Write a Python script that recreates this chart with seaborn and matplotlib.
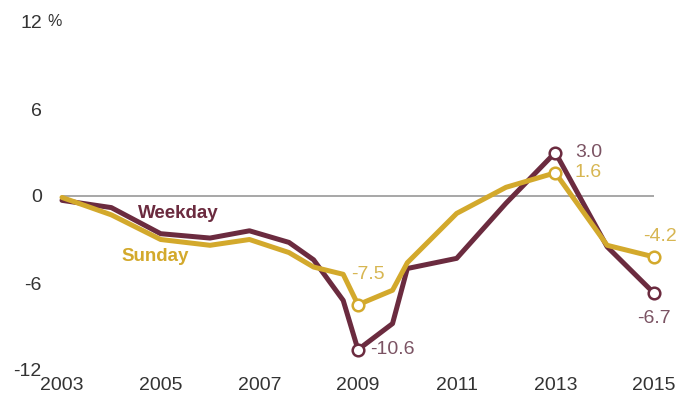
import pandas as pd
import matplotlib.pyplot as plt
import seaborn as sns

# Data (percent change since 2003)
years = [2003.0, 2004.0, 2005.0, 2006.0, 2006.8, 2007.6, 2008.1, 2008.7,
         2009.0, 2009.7, 2010.0, 2011.0, 2012.0, 2013.0, 2014.05, 2015.0]
weekday = [-0.3, -0.8, -2.6, -2.9, -2.4, -3.2, -4.4, -7.2,
           -10.6, -8.8, -5.0, -4.3, -0.5, 3.0, -3.5, -6.7]
sunday = [-0.1, -1.3, -3.0, -3.4, -3.0, -3.9, -4.9, -5.4,
          -7.5, -6.5, -4.6, -1.2, 0.6, 1.6, -3.4, -4.2]
highlight_years = [2009.0, 2013.0, 2015.0]
year_ticks = [2003, 2005, 2007, 2009, 2011, 2013, 2015]
y_ticks = [-12, -6, 0, 6, 12]

df = pd.DataFrame({'year': years, 'Weekday': weekday, 'Sunday': sunday})
hl = df[df['year'].isin(highlight_years)]

wk_color = '#6b2b3f'
su_color = '#d3a92c'
wk_text = '#7b5363'
su_text = '#d7b652'
txt = '#333333'

sns.set_style("white")
plt.rcParams['font.family'] = ['Liberation Sans', 'DejaVu Sans']

fig = plt.figure(figsize=(6.78, 4.04), dpi=100)
ax = fig.add_axes([62 / 678, 34 / 404, 592 / 678, 348 / 404])

ax.axhline(0, color='#a0a0a0', lw=1.3, zorder=1)

sns.lineplot(data=df, x='year', y='Weekday', color=wk_color, linewidth=3.6,
             ax=ax, zorder=3, clip_on=False)
sns.lineplot(data=df, x='year', y='Sunday', color=su_color, linewidth=3.6,
             ax=ax, zorder=4, clip_on=False)
sns.scatterplot(data=hl, x='year', y='Weekday', s=70, color='white',
                edgecolor=wk_color, linewidth=1.8, ax=ax, zorder=5, clip_on=False)
sns.scatterplot(data=hl, x='year', y='Sunday', s=70, color='white',
                edgecolor=su_color, linewidth=1.8, ax=ax, zorder=6, clip_on=False)

# Value labels
def label(x, y, s, color, dx, dy, ha='left'):
    ax.annotate(s, (x, y), xytext=(dx, dy), textcoords='offset points',
                ha=ha, va='center', color=color, fontsize=14)

w = dict(zip(years, weekday))
s = dict(zip(years, sunday))
label(2009.0, w[2009.0], f"{w[2009.0]:.1f}", wk_text, 9, 0)
label(2009.0, s[2009.0], f"{s[2009.0]:.1f}", su_text, 7, 22, ha='center')
label(2013.0, w[2013.0], f"{w[2013.0]:.1f}", wk_text, 14, 0)
label(2013.0, s[2013.0], f"{s[2013.0]:.1f}", su_text, 14, 0)
label(2015.0, w[2015.0], f"{w[2015.0]:.1f}", wk_text, 0, -18, ha='center')
label(2015.0, s[2015.0], f"{s[2015.0]:.1f}", su_text, 4, 15, ha='center')

# Series names
ax.text(2004.55, -1.2, 'Weekday', color=wk_color, fontsize=13.5,
        fontweight='bold', va='center')
ax.text(2004.2, -4.2, 'Sunday', color=su_color, fontsize=13.5,
        fontweight='bold', va='center')

ax.set_xlim(2003, 2015)
ax.set_ylim(-12, 12)
ax.set_xticks(year_ticks)
ax.set_xticklabels([str(t) for t in year_ticks])
ax.set_yticks(y_ticks)
ax.set_yticklabels([str(t) for t in y_ticks])
ax.text(-0.024, 12, '%', transform=ax.get_yaxis_transform(),
        ha='left', va='center', fontsize=11.5, color=txt)
ax.tick_params(axis='both', length=0, labelsize=14, colors=txt)
ax.tick_params(axis='y', pad=14.5)
ax.tick_params(axis='x', pad=5)
ax.set_xlabel('')
ax.set_ylabel('')
for sp in ax.spines.values():
    sp.set_visible(False)

fig.savefig('out.png', dpi=100)
plt.close(fig)
